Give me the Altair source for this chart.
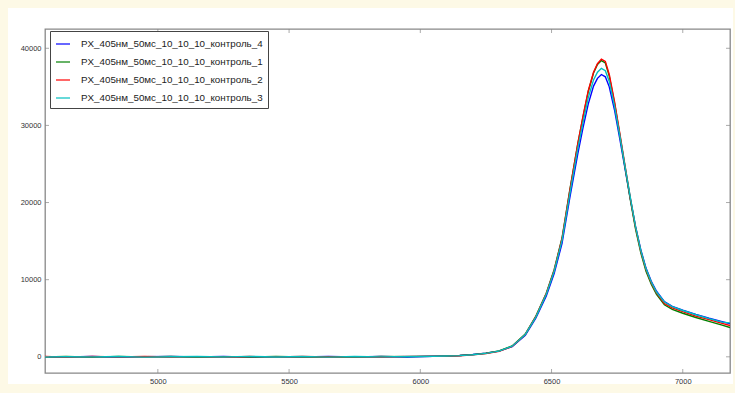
import altair as alt
import pandas as pd

# ---- data ----
wavelength = [4570, 4650, 4750, 4850, 4950, 5050, 5150, 5250, 5350, 5450,
              5550, 5650, 5750, 5850, 5950, 6050, 6100, 6150, 6200, 6250,
              6300, 6350, 6400, 6440, 6480, 6510, 6540, 6570, 6600, 6620,
              6640, 6660, 6675, 6690, 6705, 6720, 6740, 6760, 6780, 6800,
              6820, 6840, 6860, 6880, 6900, 6930, 6960, 7000, 7050, 7100,
              7150, 7180]

series_names = [
    "PX_405нм_50мс_10_10_10_контроль_4",
    "PX_405нм_50мс_10_10_10_контроль_1",
    "PX_405нм_50мс_10_10_10_контроль_2",
    "PX_405нм_50мс_10_10_10_контроль_3",
]
series_colors = ["#0000ff", "#008000", "#ff0000", "#00bfbf"]

control_4 = [10, -30, 40, -50, 20, 50, -20, 30, -40, 20, -30, 50, -10, 40, -20,
             80, 110, 170, 290, 470, 740, 1320, 2800, 5000, 7900,
             10800, 14700, 20700, 26300, 29700, 32800, 35100, 36100, 36600, 36300,
             35000, 32000, 28300, 24400, 20500, 16900, 13900, 11500, 9800, 8500,
             7150, 6550, 6050, 5500, 5000, 4550, 4300]
control_1 = [-20, 30, -40, 50, -10, 30, -50, 20, -30, 40, -20, 10, -40, 30, 20,
             60, 100, 160, 280, 460, 760, 1400, 2950, 5250, 8250,
             11300, 15400, 21700, 27600, 31100, 34400, 36800, 37900, 38400, 38100,
             36400, 32900, 28800, 24600, 20400, 16600, 13500, 11100, 9400, 8100,
             6750, 6150, 5650, 5100, 4600, 4100, 3800]
control_2 = [30, -40, 50, -20, 40, -30, 20, -50, 30, -10, 40, -30, 20, -20, 50,
             70, 90, 140, 250, 420, 700, 1350, 2900, 5200, 8200,
             11200, 15300, 21600, 27600, 31200, 34500, 36900, 38000, 38600, 38300,
             36600, 33100, 29000, 24800, 20600, 16800, 13700, 11300, 9600, 8300,
             6900, 6350, 5850, 5280, 4820, 4330, 4050]
control_3 = [-30, 20, -10, 40, -40, 10, 40, -30, 50, -20, 30, -40, 40, -10, 30,
             70, 100, 150, 270, 450, 730, 1380, 2900, 5150, 8100,
             11100, 15100, 21200, 27000, 30400, 33600, 35900, 36900, 37400, 37100,
             35700, 32500, 28700, 24700, 20700, 16900, 13800, 11400, 9700, 8400,
             7100, 6500, 6000, 5450, 4950, 4500, 4400]

x_ticks = [5000, 5500, 6000, 6500, 7000]
y_ticks = [0, 10000, 20000, 30000, 40000]

# ---- build table ----
rows = []
for i, (name, vals) in enumerate(zip(series_names, [control_4, control_1, control_2, control_3])):
    for j, (x, y) in enumerate(zip(wavelength, vals)):
        rows.append({"x": x, "y": y, "series": name, "ord": i, "j": j})
df = pd.DataFrame(rows)

W, H = 685, 344
FRAME = "#888888"
xscale = alt.Scale(domain=[4570, 7180], nice=False, zero=False)
yscale = alt.Scale(domain=[-2100, 42500], nice=False, zero=False)

lines = alt.Chart(df).mark_line(strokeWidth=1.4, clip=True).encode(
    x=alt.X("x:Q", scale=xscale,
            axis=alt.Axis(title=None, values=x_ticks, ticks=False, domain=False,
                          grid=False, labelPadding=4, format="d")),
    y=alt.Y("y:Q", scale=yscale,
            axis=alt.Axis(title=None, values=y_ticks, ticks=False, domain=False,
                          grid=False, labelPadding=4, format="d")),
    color=alt.Color("series:N",
                    scale=alt.Scale(domain=series_names, range=series_colors),
                    legend=alt.Legend(title=None, orient="none", legendX=5, legendY=2,
                                      symbolType="stroke", symbolSize=196,
                                      symbolStrokeWidth=1.2, labelFontSize=9.8,
                                      labelFont="Liberation Sans", labelColor="#222",
                                      labelLimit=400, labelOffset=10, rowPadding=5,
                                      padding=5, strokeColor="#444", fillColor="white",
                                      cornerRadius=0)),
    detail="series:N",
    order="j:Q",
)

xt = pd.DataFrame({"v": x_ticks})
yt = pd.DataFrame({"v": y_ticks})
tick_style = dict(color=FRAME, thickness=1, size=4)
bottom_ticks = alt.Chart(xt).mark_tick(**tick_style).encode(
    x=alt.X("v:Q", scale=xscale), y=alt.value(H - 2))
top_ticks = alt.Chart(xt).mark_tick(**tick_style).encode(
    x=alt.X("v:Q", scale=xscale), y=alt.value(2))
left_ticks = alt.Chart(yt).mark_tick(**tick_style).encode(
    y=alt.Y("v:Q", scale=yscale), x=alt.value(2))
right_ticks = alt.Chart(yt).mark_tick(**tick_style).encode(
    y=alt.Y("v:Q", scale=yscale), x=alt.value(W - 2))

chart = alt.layer(lines, bottom_ticks, top_ticks, left_ticks, right_ticks).properties(
    width=W, height=H,
    background="white",
    autosize=alt.AutoSizeParams(type="none"),
    padding={"left": 37, "top": 21, "right": 3, "bottom": 11},
).configure_view(
    stroke=FRAME, strokeWidth=1.3,
).configure_axis(
    labelFont="Liberation Sans", labelFontSize=7.5, labelColor="#333",
)

chart.save("out.html", embed_options={"renderer": "svg", "actions": False})

# page margin colour of the reference; keep the page inside the window
with open("out.html", encoding="utf-8") as f:
    html = f.read()
css = ("<style>html,body{background:#fdf9e6;overflow:hidden;}"
       "body{margin:8px 0 0 8px;}</style>")
html = html.replace("</head>", css + "</head>", 1)
with open("out.html", "w", encoding="utf-8") as f:
    f.write(html)
